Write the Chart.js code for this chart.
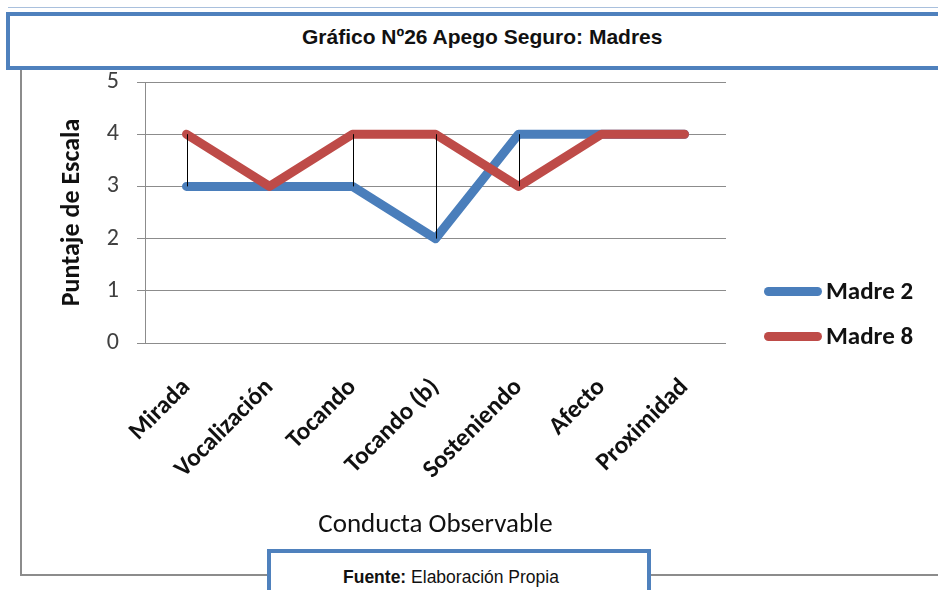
<!DOCTYPE html>
<html>
<head>
<meta charset="utf-8">
<script src="https://cdn.jsdelivr.net/npm/chart.js@4"></script>
<style>
  html, body { margin: 0; padding: 0; background: #fff; }
  #page { position: relative; width: 938px; height: 590px; overflow: hidden; }
  #chartWrap { position: absolute; left: 0; top: 0; width: 938px; height: 590px; }
  .frameV { position: absolute; left: 20px; top: 70px; width: 2px; height: 506px; background: #8c8c8c; }
  .frameH { position: absolute; left: 20px; top: 574px; width: 930px; height: 2px; background: #8c8c8c; }
  .topLine { position: absolute; left: 8px; top: 7px; width: 940px; height: 1px; background: #a9c0dd; }
  #titleBox {
    position: absolute; left: 6px; top: 12px; width: 960px; height: 50px;
    border: 4px solid #4f81bd; background: #fff;
    font-family: "Liberation Sans Narrow", "Liberation Sans", Arial, sans-serif;
    font-weight: bold; font-size: 21px; color: #111;
    line-height: 42px; box-sizing: content-box;
  }
  #titleBox span { position: absolute; left: 292px; }
  #sourceBox {
    position: absolute; left: 267px; top: 549px; width: 376px; height: 60px;
    border: 4px solid #4f81bd; background: #fff;
    font-family: "Liberation Sans Narrow", "Liberation Sans", Arial, sans-serif;
    font-size: 17.5px; color: #111;
  }
  #sourceBox span { position: absolute; left: 72px; top: 14px; white-space: nowrap; }
  .legend { position: absolute; left: 764px; font-family: Carlito, Lato, sans-serif;
    font-weight: bold; font-size: 25px; color: #111; white-space: nowrap; }
  .legend i { display: inline-block; width: 58px; height: 9px; border-radius: 5px;
    vertical-align: middle; margin-right: 4px; position: relative; top: -1px; }
</style>
</head>
<body>
<div id="page">
  <div class="topLine"></div>
  <div class="frameV"></div>
  <div class="frameH"></div>
  <div id="chartWrap"><canvas id="apegoChart" width="938" height="590"></canvas></div>
  <div id="titleBox"><span>Gráfico Nº26 Apego Seguro: Madres</span></div>
  <div class="legend" style="top:275px"><i style="background:#4a7ebb"></i>Madre 2</div>
  <div class="legend" style="top:320px"><i style="background:#be4b48"></i>Madre 8</div>
  <div id="sourceBox"><span><b>Fuente:</b> Elaboración Propia</span></div>
</div>
<script>
// chart values
const categories = ['Mirada', 'Vocalización', 'Tocando', 'Tocando (b)', 'Sosteniendo', 'Afecto', 'Proximidad'];
const madre2 = [3, 3, 3, 2, 4, 4, 4];
const madre8 = [4, 3, 4, 4, 3, 4, 4];
const yTicks = [0, 1, 2, 3, 4, 5];

const blue = '#4a7ebb';
const red = '#be4b48';
const calibri = 'Carlito, Lato, sans-serif';

// thin black high-low lines between the two series
const dropLines = {
    id: 'dropLines',
    afterDatasetsDraw(chart) {
        const { ctx, scales: { x, y } } = chart;
        ctx.save();
        ctx.strokeStyle = '#000';
        ctx.lineWidth = 1;
        categories.forEach((c, i) => {
            if (madre2[i] === madre8[i]) return;
            const px = Math.round(x.getPixelForValue(i)) + 0.5;
            ctx.beginPath();
            ctx.moveTo(px, y.getPixelForValue(madre2[i]));
            ctx.lineTo(px, y.getPixelForValue(madre8[i]));
            ctx.stroke();
        });
        ctx.restore();
    }
};

const lineStyle = {
    fill: false,
    borderWidth: 9,
    borderCapStyle: 'round',
    borderJoinStyle: 'round',
    pointRadius: 0,
    tension: 0
};

new Chart(document.getElementById('apegoChart'), {
    type: 'line',
    data: {
        labels: categories,
        datasets: [
            Object.assign({ label: 'Madre 2', data: madre2, borderColor: blue, backgroundColor: blue, order: 1 }, lineStyle),
            Object.assign({ label: 'Madre 8', data: madre8, borderColor: red, backgroundColor: red, order: 0 }, lineStyle)
        ]
    },
    options: {
        responsive: false,
        animation: false,
        layout: { padding: { left: 53, top: 82, right: 212, bottom: 45 } },
        plugins: { legend: { display: false }, tooltip: { enabled: false } },
        scales: {
            x: {
                offset: true,
                grid: { display: false, drawTicks: false },
                border: { display: false },
                ticks: {
                    minRotation: 45, maxRotation: 45, padding: 30,
                    color: '#111',
                    font: { family: calibri, size: 25, weight: 'bold' }
                },
                title: {
                    display: true, text: 'Conducta Observable', color: '#111',
                    font: { family: calibri, size: 27 }, padding: { top: 4, bottom: 4 }
                },
                afterFit(scale) { scale.height = 202; }
            },
            y: {
                min: 0, max: 5,
                afterBuildTicks(scale) { scale.ticks = yTicks.map(v => ({ value: v })); },
                grid: { color: '#8c8c8c', lineWidth: 1, tickLength: 8 },
                border: { color: '#8c8c8c', width: 1 },
                ticks: {
                    padding: 18, color: '#404040',
                    font: { family: calibri, size: 24 }
                },
                title: {
                    display: true, text: 'Puntaje de Escala', color: '#111',
                    font: { family: calibri, size: 26, weight: 'bold' }, padding: { top: 4, bottom: 4 }
                },
                afterFit(scale) { scale.width = 92; }
            }
        }
    },
    plugins: [dropLines]
});
</script>
</body>
</html>
